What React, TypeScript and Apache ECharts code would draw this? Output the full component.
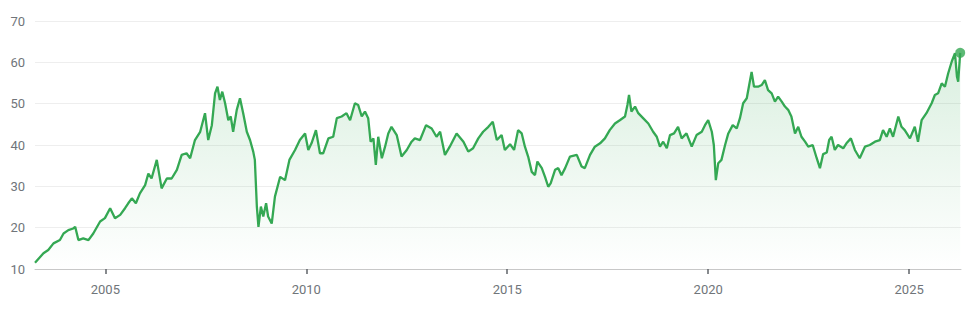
import React, { useEffect, useRef } from "react";
import * as echarts from "echarts";

// Decimal-year positions and values
const years: number[] = [
  2003.25, 2003.46, 2003.58, 2003.71, 2003.87, 2003.96, 2004.08, 2004.2, 2004.25, 2004.33,
  2004.45, 2004.58, 2004.7, 2004.87, 2004.99, 2005.12, 2005.24, 2005.37, 2005.49, 2005.57,
  2005.66, 2005.76, 2005.86, 2005.99, 2006.07, 2006.15, 2006.28, 2006.4, 2006.53, 2006.65,
  2006.78, 2006.9, 2007.02, 2007.11, 2007.23, 2007.36, 2007.48, 2007.56, 2007.65, 2007.73,
  2007.79, 2007.85, 2007.91, 2007.98, 2008.06, 2008.12, 2008.18, 2008.27, 2008.35, 2008.43,
  2008.52, 2008.6, 2008.68, 2008.72, 2008.77, 2008.81, 2008.87, 2008.93, 2009.0, 2009.05,
  2009.14, 2009.22, 2009.35, 2009.47, 2009.58, 2009.72, 2009.84, 2009.97, 2010.05, 2010.13,
  2010.24, 2010.34, 2010.42, 2010.55, 2010.67, 2010.76, 2010.88, 2011.0, 2011.09, 2011.21,
  2011.29, 2011.38, 2011.46, 2011.54, 2011.6, 2011.67, 2011.73, 2011.79, 2011.88, 2011.96,
  2012.04, 2012.12, 2012.25, 2012.37, 2012.5, 2012.62, 2012.7, 2012.83, 2012.98, 2013.12,
  2013.24, 2013.33, 2013.45, 2013.57, 2013.74, 2013.91, 2014.03, 2014.15, 2014.28, 2014.4,
  2014.53, 2014.64, 2014.74, 2014.86, 2014.94, 2015.07, 2015.17, 2015.27, 2015.36, 2015.44,
  2015.52, 2015.61, 2015.69, 2015.75, 2015.86, 2015.94, 2016.02, 2016.08, 2016.19, 2016.27,
  2016.35, 2016.44, 2016.56, 2016.73, 2016.85, 2016.93, 2017.06, 2017.18, 2017.31, 2017.43,
  2017.55, 2017.68, 2017.8, 2017.93, 2017.99, 2018.03, 2018.09, 2018.18, 2018.26, 2018.38,
  2018.51, 2018.63, 2018.72, 2018.8, 2018.88, 2018.97, 2019.05, 2019.15, 2019.25, 2019.34,
  2019.46, 2019.59, 2019.71, 2019.84, 2019.92, 2020.0, 2020.09, 2020.14, 2020.19, 2020.25,
  2020.33, 2020.42, 2020.5, 2020.61, 2020.71, 2020.79, 2020.87, 2020.96, 2021.02, 2021.08,
  2021.14, 2021.24, 2021.33, 2021.41, 2021.49, 2021.58, 2021.66, 2021.74, 2021.83, 2021.91,
  2021.99, 2022.07, 2022.16, 2022.24, 2022.32, 2022.41, 2022.49, 2022.6, 2022.7, 2022.78,
  2022.86, 2022.95, 2023.01, 2023.07, 2023.15, 2023.23, 2023.36, 2023.44, 2023.55, 2023.65,
  2023.77, 2023.9, 2024.02, 2024.15, 2024.27, 2024.35, 2024.44, 2024.52, 2024.6, 2024.73,
  2024.81, 2024.89, 2025.02, 2025.14, 2025.22, 2025.31, 2025.43, 2025.56, 2025.64, 2025.72,
  2025.81, 2025.89, 2025.97, 2026.06, 2026.14, 2026.19, 2026.22, 2026.27,
];

const prices: number[] = [
  11.5, 13.8, 14.6, 16.2, 17.0, 18.6, 19.4, 19.8, 20.2, 17.0,
  17.4, 17.0, 18.6, 21.5, 22.3, 24.7, 22.3, 23.1, 24.7, 25.9,
  27.1, 25.9, 28.3, 30.3, 33.1, 31.9, 36.4, 29.5, 31.9, 31.9,
  34.0, 37.6, 38.0, 36.8, 41.2, 43.2, 47.7, 41.2, 44.8, 52.5,
  54.1, 50.9, 52.9, 50.1, 46.0, 46.9, 43.2, 48.5, 51.3, 47.7,
  43.2, 41.2, 38.4, 36.4, 25.1, 20.2, 25.1, 22.7, 25.9, 22.7,
  21.0, 27.5, 32.3, 31.5, 36.4, 38.8, 41.2, 42.8, 38.8, 40.4,
  43.6, 38.0, 38.0, 41.6, 42.0, 46.5, 46.9, 47.7, 46.0, 50.1,
  49.7, 46.9, 48.1, 46.5, 40.8, 41.6, 35.2, 42.0, 36.8, 39.6,
  42.8, 44.4, 42.4, 37.2, 38.8, 40.8, 41.6, 41.2, 44.8, 44.0,
  42.0, 43.2, 37.6, 39.6, 42.8, 40.8, 38.4, 39.2, 41.6, 43.2,
  44.4, 45.6, 41.2, 42.4, 38.8, 40.2, 38.8, 43.6, 42.8, 39.6,
  37.2, 33.5, 32.7, 36.0, 34.4, 32.3, 29.9, 30.7, 34.0, 34.4,
  32.7, 34.4, 37.2, 37.6, 34.8, 34.4, 37.6, 39.6, 40.4, 41.6,
  43.6, 45.2, 46.0, 46.9, 49.7, 52.1, 48.1, 49.3, 47.7, 46.5,
  45.2, 43.2, 42.0, 39.6, 40.8, 39.2, 42.4, 42.8, 44.4, 41.6,
  42.8, 39.6, 42.4, 43.2, 44.8, 46.0, 43.2, 40.0, 31.5, 35.6,
  36.4, 40.0, 42.8, 44.8, 44.0, 46.5, 50.1, 51.3, 54.5, 57.7,
  54.1, 54.1, 54.5, 55.7, 53.3, 52.5, 50.5, 51.7, 50.5, 49.3,
  48.5, 46.9, 42.8, 44.4, 42.0, 40.8, 39.6, 40.0, 36.8, 34.4,
  37.8, 38.2, 41.2, 42.0, 38.8, 40.0, 39.2, 40.4, 41.6, 38.8,
  36.8, 39.6, 40.0, 40.8, 41.2, 43.6, 42.0, 44.0, 42.0, 46.9,
  44.4, 43.6, 41.6, 44.4, 40.8, 46.0, 47.7, 50.1, 52.1, 52.5,
  54.9, 54.1, 57.3, 60.2, 62.2, 56.5, 55.3, 62.3,
];

const yearTicks: number[] = [2005, 2010, 2015, 2020, 2025];
const xMin = 2003.25;
const xMax = 2026.29;

export default function App() {
  const ref = useRef<HTMLDivElement>(null);

  useEffect(() => {
    if (!ref.current) return;
    const chart = echarts.init(ref.current, undefined, { renderer: "svg" });
    const seriesData = years.map((y, i) => [y, prices[i]]);
    const last = seriesData[seriesData.length - 1];
    const green = "#34a853";
    const font = "Roboto, Arial, sans-serif";

    chart.setOption({
      animation: false,
      backgroundColor: "#ffffff",
      grid: { left: 35, right: 14, top: 21, bottom: 40, containLabel: false },
      xAxis: {
        type: "value",
        min: xMin,
        max: xMax,
        splitLine: { show: false },
        axisLine: { show: true, lineStyle: { color: "#c8c8c8", width: 1 } },
        axisTick: {
          show: true,
          customValues: yearTicks,
          length: 5,
          lineStyle: { color: "#5f6368", width: 1.5 },
        },
        axisLabel: {
          customValues: yearTicks,
          formatter: (v: number) => String(Math.round(v)),
          color: "#70757a",
          fontSize: 13,
          fontFamily: font,
          margin: 14,
        },
      },
      yAxis: {
        type: "value",
        min: 10,
        max: 70,
        interval: 10,
        axisLine: { show: false },
        axisTick: { show: false },
        splitLine: { show: true, lineStyle: { color: "#eeeeee", width: 1 } },
        axisLabel: {
          color: "#70757a",
          fontSize: 13,
          fontFamily: font,
          margin: 10,
        },
      },
      series: [
        {
          type: "line",
          data: seriesData,
          showSymbol: false,
          symbol: "none",
          smooth: false,
          lineStyle: { color: green, width: 2.3 },
          areaStyle: {
            color: new echarts.graphic.LinearGradient(0, 0, 0, 1, [
              { offset: 0, color: "rgba(52,168,83,0.26)" },
              { offset: 1, color: "rgba(52,168,83,0.0)" },
            ]),
          },
          z: 2,
        },
        {
          type: "scatter",
          data: [last],
          symbol: "circle",
          symbolSize: 10,
          itemStyle: { color: green },
          z: 3,
        },
      ],
    });

    return () => chart.dispose();
  }, []);

  return (
    <div
      ref={ref}
      style={{ position: "fixed", left: 0, top: 0, width: 975, height: 309 }}
    />
  );
}
